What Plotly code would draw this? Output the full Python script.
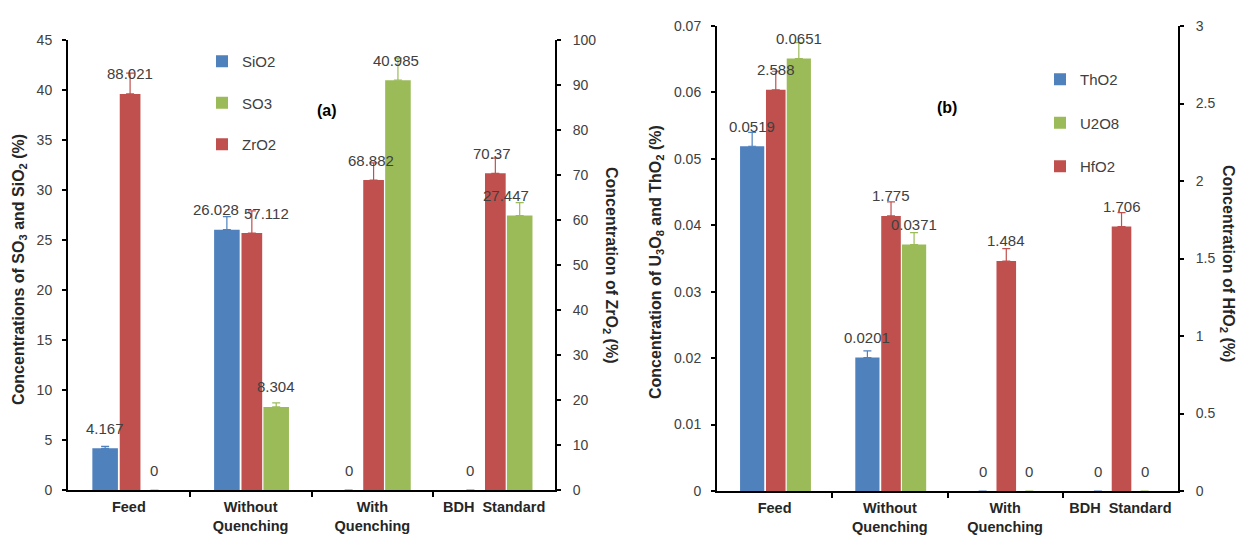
import plotly.graph_objects as go

# ---------------- data ----------------
categories = ["Feed", "Without<br>Quenching", "With<br>Quenching", "BDH\u00a0\u00a0Standard"]

# panel (a)
sio2 = [4.167, 26.028, 0, 0]
zro2 = [88.021, 57.112, 68.882, 70.37]
so3 = [0, 8.304, 40.985, 27.447]
sio2_err = [0.2, 1.3, 0, 0]
zro2_err = [4.6, 4.9, 3.8, 3.4]
so3_err = [0, 0.4, 2.2, 1.3]

# panel (b)
tho2 = [0.0519, 0.0201, 0, 0]
hfo2 = [2.588, 1.775, 1.484, 1.706]
u2o8 = [0.0651, 0.0371, 0, 0]
tho2_err = [0.0021, 0.001, 0, 0]
hfo2_err = [0.12, 0.09, 0.08, 0.09]
u2o8_err = [0.0024, 0.0018, 0, 0]

# ---------------- style ----------------
BLUE = "#4F81BD"
RED = "#C0504D"
GREEN = "#9BBB59"
FONT = "Liberation Sans, Arial, sans-serif"
TXT = "#404040"
W = 1240
H = 536

fig = go.Figure()
annotations = []

# slot geometry in category units (offset, width)
SLOT = {"blue": (-0.30, 0.21), "red": (-0.075, 0.17), "green": (0.105, 0.21)}
# small manual label nudges (px) as in the original figure
NUDGE = {("SiO2", 1): -11, ("ZrO2", 1): 15, ("SO3", 3): -14,
         ("ZrO2", 2): -3, ("ZrO2", 3): -3, ("SO3", 2): -2}


def add_series(name, vals, errs, color, slot, xa, ya, legend, rank):
    off, wid = SLOT[slot]
    fig.add_trace(go.Bar(
        x=list(range(len(categories))), y=vals, name=name,
        marker=dict(color=color, line=dict(width=0)),
        offset=off, width=wid,
        xaxis=xa, yaxis=ya,
        legend=legend, legendgroup=name, legendrank=rank,
        error_y=dict(type="data", symmetric=False, array=errs,
                     arrayminus=[0] * len(errs), color=color,
                     thickness=1.2, width=4),
        hoverinfo="skip",
    ))
    for i, v in enumerate(vals):
        annotations.append(dict(
            x=i + off + wid / 2, y=v, xref=xa, yref=ya,
            text=f"{v:g}", showarrow=False, yshift=20,
            xshift=NUDGE.get((name, i), 0),
            font=dict(family=FONT, size=15, color=TXT),
        ))


add_series("SiO2", sio2, sio2_err, BLUE, "blue", "x", "y", "legend", 1)
add_series("ZrO2", zro2, zro2_err, RED, "red", "x", "y2", "legend", 3)
add_series("SO3", so3, so3_err, GREEN, "green", "x", "y", "legend", 2)

add_series("ThO2", tho2, tho2_err, BLUE, "blue", "x2", "y3", "legend2", 1)
add_series("HfO2", hfo2, hfo2_err, RED, "red", "x2", "y4", "legend2", 3)
add_series("U2O8", u2o8, u2o8_err, GREEN, "green", "x2", "y3", "legend2", 2)

# panel geometry (pixels -> paper)
A_X0, A_X1, A_Y0, A_Y1 = 68, 555, 490, 40
B_X0, B_X1, B_Y0, B_Y1 = 717, 1178, 491, 26

tickfont = dict(family=FONT, size=14, color=TXT)
catfont = dict(family=FONT, size=14.5, color="#262626")


def xax(x0, x1, anchor):
    return dict(
        domain=[x0 / W, x1 / W], anchor=anchor,
        tickmode="array", tickvals=list(range(len(categories))),
        ticktext=[f"<b>{c}</b>" for c in categories],
        range=[-0.5, len(categories) - 0.5],
        showline=True, linecolor="black", linewidth=2,
        ticks="", showgrid=False, zeroline=False,
        tickfont=catfont, automargin=False, ticklabelstandoff=3,
        minor=dict(tickvals=[0.5, 1.5, 2.5], ticks="outside", ticklen=5,
                   tickcolor="black", tickwidth=1.5, showgrid=False),
    )


def yax(y0, y1, anchor, rng, dtick, side="left", overlay=None):
    d = dict(
        domain=[1 - y0 / H, 1 - y1 / H], anchor=anchor, range=rng, dtick=dtick,
        showline=True, linecolor="black", linewidth=2, ticks="outside",
        ticklen=4, tickwidth=1.5, tickcolor="black", showgrid=False,
        zeroline=False, tickfont=tickfont, side=side, automargin=False,
        ticklabelstandoff=7 if side == "left" else 9,
    )
    if overlay:
        d["overlaying"] = overlay
    return d


legend_font = dict(family=FONT, size=15, color=TXT)
fig.update_layout(
    width=W, height=H, template="none",
    paper_bgcolor="white", plot_bgcolor="white",
    margin=dict(l=0, r=0, t=0, b=0),
    barmode="overlay", showlegend=True,
    xaxis=xax(A_X0, A_X1, "y"),
    yaxis=yax(A_Y0, A_Y1, "x", [0, 45], 5),
    yaxis2=yax(A_Y0, A_Y1, "x", [0, 100], 10, side="right", overlay="y"),
    xaxis2=xax(B_X0, B_X1, "y3"),
    yaxis3=yax(B_Y0, B_Y1, "x2", [0, 0.07], 0.01),
    yaxis4=yax(B_Y0, B_Y1, "x2", [0, 3], 0.5, side="right", overlay="y3"),
    legend=dict(x=202 / W, y=1 - 45 / H, xanchor="left", yanchor="top",
                tracegroupgap=19, bgcolor="rgba(0,0,0,0)", font=legend_font),
    legend2=dict(x=1040 / W, y=1 - 63 / H, xanchor="left", yanchor="top",
                 tracegroupgap=21, bgcolor="rgba(0,0,0,0)", font=legend_font),
)

title_font = dict(family=FONT, size=16, color="#262626")
annotations += [
    dict(x=19 / W, y=1 - 270 / H, xref="paper", yref="paper", textangle=-90,
         text="<b>Concentrations of SO<sub>3</sub> and SiO<sub>2</sub> (%)</b>",
         showarrow=False, font=title_font, xanchor="center", yanchor="middle"),
    dict(x=611 / W, y=1 - 265 / H, xref="paper", yref="paper", textangle=90,
         text="<b>Concentration of ZrO<sub>2</sub> (%)</b>",
         showarrow=False, font=title_font, xanchor="center", yanchor="middle"),
    dict(x=656 / W, y=1 - 262 / H, xref="paper", yref="paper", textangle=-90,
         text="<b>Concentration of U<sub>3</sub>O<sub>8</sub> and ThO<sub>2</sub> (%)</b>",
         showarrow=False, font=title_font, xanchor="center", yanchor="middle"),
    dict(x=1228 / W, y=1 - 263 / H, xref="paper", yref="paper", textangle=90,
         text="<b>Concentration of HfO<sub>2</sub> (%)</b>",
         showarrow=False, font=title_font, xanchor="center", yanchor="middle"),
    dict(x=315 / W, y=1 - 100 / H, xref="paper", yref="paper", text="<b>(a)</b>",
         showarrow=False, font=dict(family=FONT, size=16, color="black")),
    dict(x=959 / W, y=1 - 97 / H, xref="paper", yref="paper", text="<b>(b)</b>",
         showarrow=False, font=dict(family=FONT, size=16, color="black")),
]
fig.update_layout(annotations=annotations)

fig.write_html(
    "out.html",
    config={"displayModeBar": False},
    post_script="document.body.style.margin='0px';"
                "document.body.style.overflow='hidden';",
)
